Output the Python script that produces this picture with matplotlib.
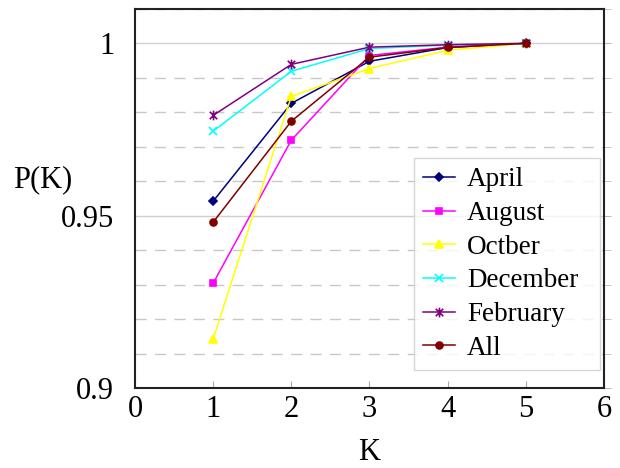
import matplotlib
matplotlib.use("Agg")
import matplotlib.pyplot as plt
from matplotlib.ticker import MultipleLocator
from matplotlib.path import Path

plt.rcParams['font.family'] = ['Liberation Serif', 'DejaVu Serif']

k = [1, 2, 3, 4, 5]
april = [0.9542, 0.9826, 0.9948, 0.9988, 1.0]
august = [0.9304, 0.9719, 0.9965, 0.9989, 1.0]
october = [0.9142, 0.9846, 0.9927, 0.9980, 1.0]
december = [0.9745, 0.9919, 0.9985, 0.9995, 1.0]
february = [0.9791, 0.9939, 0.9989, 0.9996, 1.0]
all_months = [0.9481, 0.9774, 0.9960, 0.9988, 1.0]

# star marker: an "x" crossed by a vertical stroke
star = Path([(-1, -1), (1, 1), (-1, 1), (1, -1), (0, -1.3), (0, 1.3)],
            [Path.MOVETO, Path.LINETO, Path.MOVETO, Path.LINETO,
             Path.MOVETO, Path.LINETO])

series = [
    ("April", april, "#000080", "D", 4.5),
    ("August", august, "#FF00FF", "s", 5),
    ("Octber", october, "#FFFF00", "^", 6),
    ("December", december, "#00FFFF", "x", 6),
    ("February", february, "#800080", star, 7),
    ("All", all_months, "#800000", "o", 5),
]

fig = plt.figure(figsize=(6.2, 4.68), dpi=100)
ax = fig.add_axes([0.2177, 0.171, 0.7565, 0.81])

for name, vals, color, marker, ms in series:
    ax.plot(k, vals, color=color, marker=marker, markersize=ms, linewidth=1.1,
            markeredgewidth=1.2, label=name, zorder=3)

ax.set_xlim(0, 6)
ax.set_ylim(0.9, 1.01)
ax.set_xticks(range(0, 7))
ax.set_yticks([0.9, 0.95, 1.0])
ax.set_yticklabels(["0.9", "0.95", "1"])
ax.yaxis.set_minor_locator(MultipleLocator(0.01))

ax.grid(True, which='major', axis='y', color='#d0d0d0', linewidth=1.0, zorder=0)
ax.grid(True, which='minor', axis='y', color='#c8c8c8', linewidth=1.0,
        linestyle=(0, (8, 6)), zorder=0)

for side in ['left', 'bottom', 'right', 'top']:
    ax.spines[side].set_linewidth(1.5)
    ax.spines[side].set_color('#222222')

ax.tick_params(axis='x', which='major', direction='in', length=5, color='#aaaaaa',
               labelsize=22, pad=5)
ax.tick_params(axis='y', which='both', left=False, right=True, direction='out',
               length=5, color='#bbbbbb', labelsize=22, pad=10)

ax.set_xlabel("K", fontsize=22, labelpad=10)
ax.set_ylabel("P(K)", fontsize=22, rotation=0)
ax.yaxis.set_label_coords(-0.196, 0.549)
ax.yaxis.label.set_verticalalignment('center')
ax.yaxis.label.set_horizontalalignment('center')

# legend box spans a fixed width in axes coordinates
x0 = (414 - 135) / 469
x1 = (600 - 135) / 469
leg = ax.legend(loc='lower left', bbox_to_anchor=(x0, 0.047, x1 - x0, 0.6),
                mode='expand', fontsize=19.5,
                frameon=True, fancybox=False, edgecolor='#cccccc',
                handlelength=1.15, handletextpad=0.45, labelspacing=0.32,
                borderpad=0.35, borderaxespad=0)
leg.get_frame().set_linewidth(1.0)

fig.savefig("out.png", dpi=100)
